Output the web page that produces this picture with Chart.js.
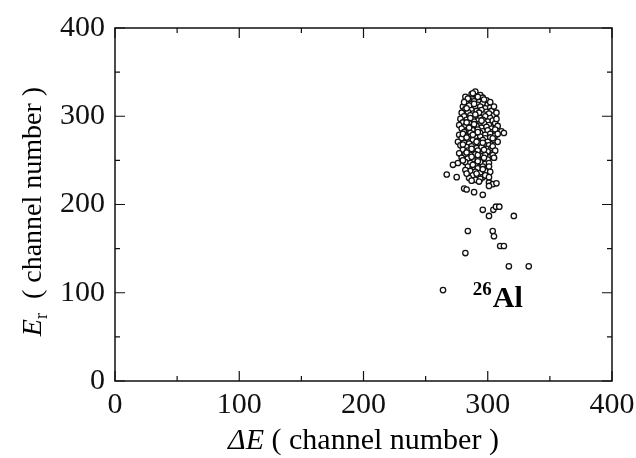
<!DOCTYPE html>
<html>
<head>
<meta charset="utf-8">
<script src="https://cdn.jsdelivr.net/npm/chart.js@4"></script>
<style>
html,body{margin:0;padding:0;background:#fff;}
#wrap{width:636px;height:458px;position:relative;}
</style>
</head>
<body>
<div id="wrap"><canvas id="c" width="636" height="458"></canvas></div>
<script>
// ---- data ----
const deltaE = [
  290,287,294,282,296,291,285,289,299,293,
  283,287,292,296,300,280,285,290,294,298,302,
  282,287,291,295,299,303,279,284,288,293,297,301,305,
  281,286,290,294,298,302,278,283,288,292,296,300,304,
  280,285,289,293,297,301,306,277,282,287,291,295,299,303,
  279,284,288,292,296,300,304,281,286,290,294,298,302,311,313,
  277,282,286,290,294,298,302,306,279,284,288,292,296,300,305,
  276,281,285,289,293,297,301,278,283,287,291,295,299,303,
  280,284,288,292,296,300,304,277,282,286,290,294,298,302,
  279,284,288,292,296,300,305,282,286,290,294,298,276,
  284,288,292,296,300,286,290,294,298,282,
  288,292,296,285,290,294,
  288,292,284,297,302,289,281,305,283,307,290,286,307,283,295,308,289,
  285,306,292,280,308,288,304,283,296,308,291,280,304,287,297,306,283,
  292,304,287,297,280,292,301,288,296,302,291,283,298,287,293,
  272,267,275,281,283,289,296,301,304,307,301,301,301,305,
  296,304.5,306.6,309.3,301,321,284,304,305,310,313,282,317,333,264
];
const eR = [
  328,325,324,322,321,320,318,317,318,316,
  315,314,313,315,313,311,312,310,311,309,310,
  308,307,306,307,305,306,304,305,303,304,302,303,301,
  300,301,299,298,300,298,297,296,297,295,296,294,295,
  293,292,294,291,292,290,292,290,289,288,289,287,288,286,
  286,285,284,285,283,284,282,282,281,280,281,279,280,283,281,
  279,278,277,276,277,275,276,278,275,274,273,272,273,271,273,
  271,270,269,268,270,268,267,267,265,266,264,265,263,264,
  262,261,260,261,259,260,258,258,257,256,257,255,256,254,
  253,252,251,252,250,251,253,248,247,246,248,246,247,
  243,242,241,243,242,238,237,236,238,239,
  233,232,231,230,228,229,
  326,322,320,319,316,314,316,311,309,304,302,298,297,293,295,289,291,
  287,285,282,280,280,279,275,276,270,271,271,268,266,263,262,261,259,
  256,256,254,253,250,249,247,245,240,237,235,235,233,227,226,
  245,234,231,218,217,214,211,225,223,224,221,231,243,253,
  194,194,197.5,197.5,187,187,170,170,164,153,153,145,130,130,103
];
const xTicks = [0,100,200,300,400];
const yTicks = [0,100,200,300,400];
const minorStep = 50;
const labelText = {sup:'26', main:'Al', x:288, y:84};

const serif = '"Liberation Serif","DejaVu Serif",serif';
const points = deltaE.map((v,i)=>({x:v,y:eR[i]}));

const framePlugin = {
  id:'frame',
  afterDatasetsDraw(chart){
    const {ctx, chartArea:a, scales:{x,y}} = chart;
    ctx.save();
    ctx.strokeStyle = '#111';
    ctx.lineWidth = 1.5;
    ctx.strokeRect(a.left, a.top, a.right-a.left, a.bottom-a.top);
    ctx.lineWidth = 1.2;
    ctx.beginPath();
    for(let v=x.min; v<=x.max; v+=minorStep){
      const len = (v%100===0)?10:5;
      const px = x.getPixelForValue(v);
      ctx.moveTo(px,a.bottom); ctx.lineTo(px,a.bottom-len);
      ctx.moveTo(px,a.top); ctx.lineTo(px,a.top+len);
    }
    for(let v=y.min; v<=y.max; v+=minorStep){
      const len = (v%100===0)?10:5;
      const py = y.getPixelForValue(v);
      ctx.moveTo(a.left,py); ctx.lineTo(a.left+len,py);
      ctx.moveTo(a.right,py); ctx.lineTo(a.right-len,py);
    }
    ctx.stroke();
    // annotation
    const ax = x.getPixelForValue(labelText.x), ay = y.getPixelForValue(labelText.y);
    ctx.fillStyle = '#000';
    ctx.textBaseline = 'alphabetic';
    ctx.textAlign = 'left';
    ctx.font = 'bold 19px '+serif;
    ctx.fillText(labelText.sup, ax, ay-12);
    const w = ctx.measureText(labelText.sup).width;
    ctx.font = 'bold 30px '+serif;
    ctx.fillText(labelText.main, ax+w+1, ay);
    // x title
    const cx = (a.left+a.right)/2;
    ctx.font = 'italic 30px '+serif;
    const p1 = 'ΔE';
    const w1 = ctx.measureText(p1).width;
    ctx.font = '30px '+serif;
    const p2 = ' ( channel number )';
    const w2 = ctx.measureText(p2).width;
    let sx = cx - (w1+w2)/2;
    ctx.font = 'italic 30px '+serif;
    ctx.fillText(p1, sx, 449);
    ctx.font = '30px '+serif;
    ctx.fillText(p2, sx+w1, 449);
    // y title (rotated)
    const cy = (a.top+a.bottom)/2 + 7;
    ctx.save();
    ctx.translate(41, cy);
    ctx.rotate(-Math.PI/2);
    ctx.font = 'italic 28px '+serif;
    const q1 = 'E'; const wq1 = ctx.measureText(q1).width;
    ctx.font = '18px '+serif;
    const q2 = 'r'; const wq2 = ctx.measureText(q2).width;
    ctx.font = '28px '+serif;
    const q3 = '  ( channel number )'; const wq3 = ctx.measureText(q3).width;
    let tx = -(wq1+wq2+wq3)/2;
    ctx.font = 'italic 28px '+serif; ctx.fillText(q1, tx, 0);
    ctx.font = '18px '+serif; ctx.fillText(q2, tx+wq1, 6);
    ctx.font = '28px '+serif; ctx.fillText(q3, tx+wq1+wq2, 0);
    ctx.restore();
    ctx.restore();
  }
};

new Chart(document.getElementById('c'), {
  type:'scatter',
  data:{datasets:[{
    data:points,
    pointStyle:'circle',
    pointRadius:2.7,
    pointBorderWidth:1.3,
    pointBorderColor:'#111',
    pointBackgroundColor:'#fff'
  }]},
  options:{
    responsive:false,
    animation:false,
    events:[],
    layout:{padding:{left:0,right:24,top:28,bottom:0}},
    plugins:{legend:{display:false},tooltip:{enabled:false}},
    scales:{
      x:{
        type:'linear', min:0, max:400,
        afterBuildTicks(s){ s.ticks = xTicks.map(v=>({value:v})); },
        afterFit(s){ s.height = 77; s.paddingLeft = 0; s.paddingRight = 0; },
        grid:{display:false, drawTicks:false},
        border:{display:false},
        ticks:{color:'#111', font:{family:serif,size:30}, padding:6, maxRotation:0}
      },
      y:{
        type:'linear', min:0, max:400,
        afterBuildTicks(s){ s.ticks = yTicks.map(v=>({value:v})); },
        afterFit(s){ s.width = 115; s.paddingTop = 0; s.paddingBottom = 0; },
        grid:{display:false, drawTicks:false},
        border:{display:false},
        ticks:{color:'#111', font:{family:serif,size:30}, padding:10}
      }
    }
  },
  plugins:[framePlugin]
});
</script>
</body>
</html>
